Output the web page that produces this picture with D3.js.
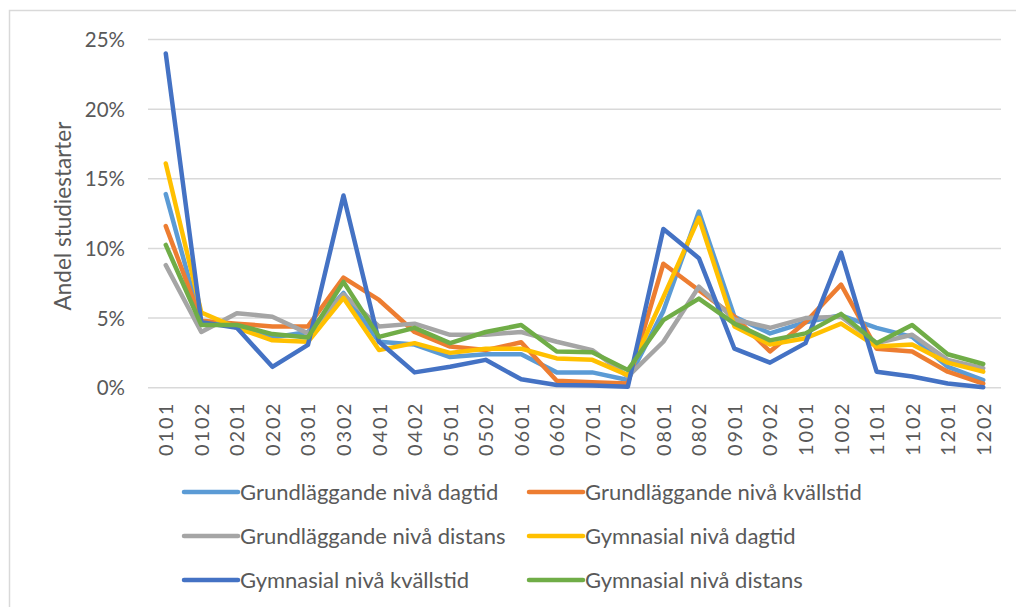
<!DOCTYPE html>
<meta charset="utf-8">
<head>
    <style>
        body, html {
            margin: 0;
            background: white;
            width: 100%;
            height: 100%;
            overflow: hidden;
        }
        svg text {
            font-family: Lato, "Open Sans", sans-serif;
            fill: #595959;
        }
    </style>
    <script src="https://cdn.jsdelivr.net/npm/d3@7"></script>
</head>
<body>
<div id="chart"></div>
<script>
    // periods on the x axis
    var categories = ["0101","0102","0201","0202","0301","0302","0401","0402","0501","0502","0601","0602",
        "0701","0702","0801","0802","0901","0902","1001","1002","1101","1102","1201","1202"];

    var seriesNames = [
        "Grundläggande nivå dagtid",
        "Grundläggande nivå kvällstid",
        "Grundläggande nivå distans",
        "Gymnasial nivå dagtid",
        "Gymnasial nivå kvällstid",
        "Gymnasial nivå distans"
    ];
    var seriesColors = ["#5B9BD5", "#ED7D31", "#A5A5A5", "#FFC000", "#4472C4", "#70AD47"];

    // values in percent
    var grundDagtid    = [13.9, 4.6, 4.5, 3.6, 4.0, 6.8, 3.3, 3.1, 2.2, 2.4, 2.4, 1.1, 1.1, 0.55, 5.5, 12.65, 5.1, 3.9, 4.7, 5.2, 4.3, 3.65, 1.5, 0.55];
    var grundKvallstid = [11.6, 4.8, 4.6, 4.4, 4.4, 7.9, 6.3, 4.0, 2.95, 2.7, 3.26, 0.5, 0.4, 0.3, 8.9, 7.0, 5.1, 2.6, 4.7, 7.4, 2.8, 2.6, 1.15, 0.3];
    var grundDistans   = [8.8, 4.0, 5.35, 5.1, 3.9, 6.7, 4.4, 4.6, 3.8, 3.8, 4.0, 3.3, 2.7, 0.8, 3.3, 7.25, 4.9, 4.3, 5.0, 5.1, 3.2, 3.8, 2.0, 1.4];
    var gymDagtid      = [16.1, 5.4, 4.3, 3.4, 3.3, 6.45, 2.7, 3.2, 2.5, 2.8, 2.8, 2.1, 2.0, 0.9, 6.5, 12.2, 4.4, 3.1, 3.55, 4.6, 2.95, 3.1, 1.8, 1.15];
    var gymKvallstid   = [24.0, 4.7, 4.3, 1.5, 3.07, 13.8, 3.3, 1.1, 1.5, 2.0, 0.6, 0.2, 0.15, 0.07, 11.4, 9.3, 2.8, 1.8, 3.2, 9.7, 1.15, 0.8, 0.3, 0.03];
    var gymDistans     = [10.25, 4.5, 4.5, 3.85, 3.6, 7.6, 3.65, 4.3, 3.2, 4.0, 4.5, 2.6, 2.55, 1.27, 4.85, 6.4, 4.6, 3.4, 3.9, 5.3, 3.2, 4.5, 2.4, 1.7];

    var yTicks = [0, 5, 10, 15, 20, 25];

    var seriesValues = [grundDagtid, grundKvallstid, grundDistans, gymDagtid, gymKvallstid, gymDistans];

    var svgWidth = 1016;
    var svgHeight = 607;
    var plotLeft = 148, plotRight = 1001, plotTop = 39.5, plotBottom = 387.7;

    var svg = d3.select("#chart").append("svg")
        .attr("width", svgWidth)
        .attr("height", svgHeight);

    // chart frame (cut off on the right and bottom)
    svg.append("rect")
        .attr("x", 9.5)
        .attr("y", 10.5)
        .attr("width", 1100)
        .attr("height", 700)
        .attr("fill", "none")
        .attr("stroke", "#d9d9d9")
        .attr("stroke-width", 1.5);

    var x = d3.scalePoint()
        .domain(categories)
        .range([plotLeft, plotRight])
        .padding(0.5);

    var y = d3.scaleLinear()
        .domain([0, 25])
        .range([plotBottom, plotTop]);

    // gridlines
    svg.append("g")
        .selectAll("line")
        .data(yTicks)
        .enter()
        .append("line")
        .attr("x1", plotLeft)
        .attr("x2", plotRight)
        .attr("y1", function(d){return y(d)})
        .attr("y2", function(d){return y(d)})
        .attr("stroke", "#d9d9d9")
        .attr("stroke-width", 1.5);

    // y axis labels
    var yAxis = d3.axisLeft(y)
        .tickValues(yTicks)
        .tickFormat(function(d){return d + "%"})
        .tickSize(0)
        .tickPadding(23);
    var yG = svg.append("g")
        .attr("transform", "translate(" + plotLeft + ",0)")
        .call(yAxis);
    yG.select(".domain").remove();
    yG.selectAll("text")
        .attr("font-size", 20.5)
        .attr("dy", "0.35em");

    // x axis labels, rotated
    var xAxis = d3.axisBottom(x)
        .tickSize(0)
        .tickPadding(0);
    var xG = svg.append("g")
        .attr("transform", "translate(0," + plotBottom + ")")
        .call(xAxis);
    xG.select(".domain").remove();
    xG.selectAll("text")
        .attr("font-size", 20)
        .attr("letter-spacing", "2px")
        .attr("transform", "rotate(-90)")
        .attr("text-anchor", "end")
        .attr("x", -14)
        .attr("y", 0)
        .attr("dy", "0.35em");

    // axis title
    svg.append("text")
        .attr("transform", "translate(71,216) rotate(-90)")
        .attr("text-anchor", "middle")
        .attr("font-size", 22.5)
        .text("Andel studiestarter");

    // lines
    var line = d3.line()
        .x(function(d, i){return x(categories[i])})
        .y(function(d){return y(d)});

    svg.append("g")
        .selectAll("path")
        .data(seriesValues)
        .enter()
        .append("path")
        .attr("d", line)
        .attr("fill", "none")
        .attr("stroke", function(d, i){return seriesColors[i]})
        .attr("stroke-width", 4.5)
        .attr("stroke-linejoin", "round")
        .attr("stroke-linecap", "round");

    // legend in two columns
    var legend = svg.append("g")
        .selectAll("g")
        .data(seriesNames)
        .enter()
        .append("g")
        .attr("transform", function(d, i){
            return "translate(" + (i % 2 === 0 ? 184 : 529) + "," + (492 + Math.floor(i / 2) * 44) + ")";
        });
    legend.append("line")
        .attr("x1", 0)
        .attr("x2", 54)
        .attr("stroke", function(d, i){return seriesColors[i]})
        .attr("stroke-width", 4.5)
        .attr("stroke-linecap", "round");
    legend.append("text")
        .attr("x", 56)
        .attr("dy", "0.35em")
        .attr("font-size", 22)
        .text(function(d){return d});
</script>
</body>
